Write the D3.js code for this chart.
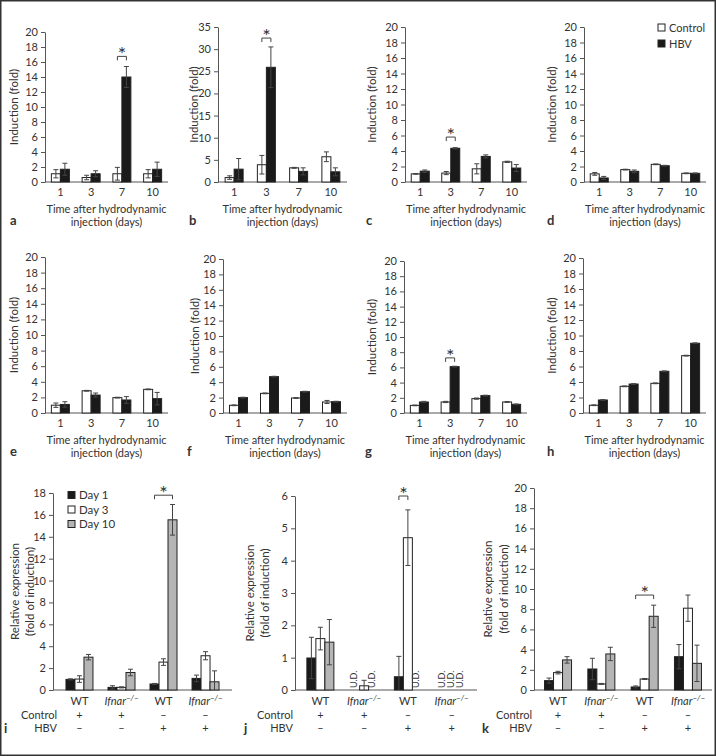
<!DOCTYPE html>
<html>
<head>
<meta charset="utf-8">
<script src="https://cdn.jsdelivr.net/npm/d3@7"></script>
<style>
  body { margin: 0; background: #fff; }
  text { font-family: Lato, "Open Sans", sans-serif; fill: #333; }
</style>
</head>
<body>
<svg id="chart" width="716" height="756"></svg>
<script>
// ---- data ----
const days = ["1", "3", "7", "10"]

const aControl = [1.1, 0.6, 1.1, 1.1], aControlErr = [0.55, 0.3, 0.85, 0.55]
const aHBV = [1.7, 1.1, 14.0, 1.7], aHBVErr = [0.8, 0.4, 1.4, 0.95]

const bControl = [1.0, 3.9, 3.2, 5.7], bControlErr = [0.4, 2.1, 0.1, 1.1]
const bHBV = [2.9, 25.9, 2.4, 2.3], bHBVErr = [2.4, 4.6, 0.8, 0.9]

const cControl = [1.05, 1.15, 1.7, 2.6], cControlErr = [0.05, 0.2, 0.65, 0.08]
const cHBV = [1.4, 4.35, 3.3, 1.8], cHBVErr = [0.15, 0.08, 0.2, 0.45]

const dControl = [1.05, 1.6, 2.28, 1.12], dControlErr = [0.18, 0.05, 0.05, 0.05]
const dHBV = [0.52, 1.38, 2.1, 1.12], dHBVErr = [0.2, 0.17, 0.05, 0.05]

const eControl = [1.0, 2.85, 1.97, 3.03], eControlErr = [0.28, 0.05, 0.05, 0.05]
const eHBV = [1.1, 2.3, 1.67, 1.84], eHBVErr = [0.35, 0.26, 0.43, 0.8]

const fControl = [1.0, 2.55, 1.95, 1.43], fControlErr = [0.05, 0.05, 0.05, 0.2]
const fHBV = [2.0, 4.72, 2.77, 1.47], fHBVErr = [0.05, 0.05, 0.05, 0.05]

const gControl = [1.0, 1.45, 1.89, 1.45], gControlErr = [0.05, 0.08, 0.08, 0.05]
const gHBV = [1.45, 6.1, 2.29, 1.14], gHBVErr = [0.08, 0.05, 0.05, 0.05]

const hControl = [1.0, 3.44, 3.83, 7.4], hControlErr = [0.05, 0.05, 0.05, 0.05]
const hHBV = [1.68, 3.74, 5.38, 9.0], hHBVErr = [0.05, 0.05, 0.05, 0.05]

const groups = ["WT ctrl", "KO ctrl", "WT HBV", "KO HBV"]
const groupIsKO = [false, true, false, true]
const controlMarks = ["+", "+", "\u2013", "\u2013"]
const hbvMarks = ["\u2013", "\u2013", "+", "+"]
const legendDays = ["Day 1", "Day 3", "Day 10"]

const iDay1 = [0.97, 0.24, 0.55, 1.06], iDay1Err = [0.05, 0.15, 0.05, 0.3]
const iDay3 = [1.0, 0.24, 2.55, 3.13], iDay3Err = [0.3, 0.05, 0.3, 0.37]
const iDay10 = [3.0, 1.6, 15.55, 0.75], iDay10Err = [0.25, 0.3, 1.4, 1.0]

const jDay1 = [0.99, null, 0.41, null], jDay1Err = [0.64, 0, 0.63, 0]
const jDay3 = [1.59, 0.13, 4.71, null], jDay3Err = [0.35, 0.17, 0.86, 0]
const jDay10 = [1.48, null, null, null], jDay10Err = [0.7, 0, 0, 0]

const kDay1 = [0.93, 2.08, 0.3, 3.3], kDay1Err = [0.25, 1.06, 0.1, 1.2]
const kDay3 = [1.72, 0.6, 1.09, 8.1], kDay3Err = [0.13, 0.05, 0.05, 1.3]
const kDay10 = [2.98, 3.57, 7.3, 2.64], kDay10Err = [0.32, 0.66, 1.1, 1.8]

// ---- drawing ----
const svg = d3.select("#chart")
const BW = 9
const INK = "#222"

svg.append("rect")
    .attr("x", 0.75).attr("y", 0.75)
    .attr("width", 714.5).attr("height", 754.5)
    .attr("fill", "none").attr("stroke", "#333").attr("stroke-width", 1.5)

function drawYAxis(g, y, ax, ticks) {
    g.append("g")
        .attr("transform", "translate(" + ax + ",0)")
        .attr("font-family", null)
        .call(d3.axisLeft(y).tickValues(ticks).tickFormat(d3.format("d"))
            .tickSize(4).tickSizeOuter(0).tickPadding(3))
        .call(function (s) {
            s.select(".domain").attr("stroke", "#555")
            s.selectAll(".tick line").attr("stroke", "#555")
            s.selectAll(".tick text").attr("font-size", 11).attr("fill", "#444")
        })
}

function drawErrors(g, rows, y) {
    rows.forEach(function (r) {
        const lo = Math.max(0, r.v - r.e), hi = r.v + r.e
        g.append("line").attr("x1", r.cx).attr("x2", r.cx)
            .attr("y1", y(lo)).attr("y2", y(hi))
            .attr("stroke", "#444").attr("stroke-width", 1)
        g.append("line").attr("x1", r.cx - 2.5).attr("x2", r.cx + 2.5)
            .attr("y1", y(hi)).attr("y2", y(hi))
            .attr("stroke", "#444").attr("stroke-width", 1)
        if (lo > 0) {
            g.append("line").attr("x1", r.cx - 2.5).attr("x2", r.cx + 2.5)
                .attr("y1", y(lo)).attr("y2", y(lo))
                .attr("stroke", "#444").attr("stroke-width", 1)
        }
    })
}

function drawSig(g, x1, x2, yy) {
    g.append("path")
        .attr("d", "M" + x1 + "," + (yy + 4) + "V" + yy + "H" + x2 + "V" + (yy + 4))
        .attr("fill", "none").attr("stroke", "#444").attr("stroke-width", 1)
    g.append("text").attr("x", (x1 + x2) / 2).attr("y", yy + 5)
        .attr("text-anchor", "middle").attr("font-size", 20)
        .attr("font-family", "'DejaVu Sans', sans-serif").attr("fill", "#222").text("*")
}

function inductionPanel(L, max, step, ctrl, ctrlErr, hbv, hbvErr, sig) {
    const g = svg.append("g")
    const y = d3.scaleLinear().domain([0, max]).range([L.bottom, L.top])
    const x = d3.scalePoint().domain(days).range([L.ax, L.right]).padding(0.5)

    drawYAxis(g, y, L.ax, d3.range(0, max + 0.001, step))
    g.append("line").attr("x1", L.ax).attr("x2", L.right)
        .attr("y1", L.bottom).attr("y2", L.bottom).attr("stroke", "#555")

    const series = [
        { v: ctrl, e: ctrlErr, fill: "#fff", off: -BW },
        { v: hbv, e: hbvErr, fill: "#1a1a1a", off: 0 }
    ]
    series.forEach(function (s) {
        const rows = days.map(function (d, i) {
            return { day: d, v: s.v[i], e: s.e[i], cx: x(d) + s.off + BW / 2 }
        })
        g.selectAll(null).data(rows).join("rect")
            .attr("x", function (d) { return x(d.day) + s.off })
            .attr("y", function (d) { return y(d.v) })
            .attr("width", BW)
            .attr("height", function (d) { return L.bottom - y(d.v) })
            .attr("fill", s.fill).attr("stroke", INK).attr("stroke-width", 1)
        drawErrors(g, rows, y)
    })

    g.selectAll(null).data(days).join("text")
        .attr("x", function (d) { return x(d) }).attr("y", L.bottom + 14)
        .attr("text-anchor", "middle").attr("font-size", 11).attr("fill", "#444")
        .text(function (d) { return d })

    const mid = (L.ax + L.right) / 2
    g.append("text").attr("x", mid).attr("y", L.bottom + 31)
        .attr("text-anchor", "middle").attr("font-size", 11).text("Time after hydrodynamic")
    g.append("text").attr("x", mid).attr("y", L.bottom + 44)
        .attr("text-anchor", "middle").attr("font-size", 11).text("injection (days)")

    g.append("text")
        .attr("transform", "translate(" + L.labelX + "," + (L.top + L.bottom) / 2 + ") rotate(-90)")
        .attr("text-anchor", "middle").attr("dominant-baseline", "middle")
        .attr("font-size", 11.5).text("Induction (fold)")

    g.append("text").attr("x", L.letterX).attr("y", L.bottom + 43)
        .attr("font-size", 13).attr("font-weight", "bold").attr("fill", "#222").text(L.letter)

    if (sig) {
        drawSig(g, x(sig.day) - BW / 2, x(sig.day) + BW / 2, y(sig.at))
    }
    return g
}

function expressionPanel(L, max, step, d1, d1e, d3v, d3e, d10, d10e, sig) {
    const g = svg.append("g")
    const y = d3.scaleLinear().domain([0, max]).range([L.bottom, L.top])
    const x = d3.scalePoint().domain(groups).range([L.ax, L.right]).padding(L.pad)

    drawYAxis(g, y, L.ax, d3.range(0, max + 0.001, step))
    g.append("line").attr("x1", L.ax).attr("x2", L.right)
        .attr("y1", L.bottom).attr("y2", L.bottom).attr("stroke", "#555")

    const series = [
        { v: d1, e: d1e, fill: "#1a1a1a", off: -1.5 * BW },
        { v: d3v, e: d3e, fill: "#fff", off: -0.5 * BW },
        { v: d10, e: d10e, fill: "#b5b5b5", off: 0.5 * BW }
    ]
    series.forEach(function (s) {
        const rows = groups.map(function (gr, i) {
            return { gr: gr, v: s.v[i], e: s.e[i], cx: x(gr) + s.off + BW / 2 }
        })
        const shown = rows.filter(function (r) { return r.v !== null })
        const missing = rows.filter(function (r) { return r.v === null })
        g.selectAll(null).data(shown).join("rect")
            .attr("x", function (d) { return x(d.gr) + s.off })
            .attr("y", function (d) { return y(d.v) })
            .attr("width", BW)
            .attr("height", function (d) { return L.bottom - y(d.v) })
            .attr("fill", s.fill).attr("stroke", INK).attr("stroke-width", 1)
        drawErrors(g, shown, y)
        g.selectAll(null).data(missing).join("text")
            .attr("transform", function (d) { return "translate(" + d.cx + "," + (L.bottom - 2) + ") rotate(-90)" })
            .attr("dominant-baseline", "middle").attr("font-size", 9).attr("fill", "#444")
            .text("U.D.")
    })

    const labels = g.selectAll(null).data(groups).join("text")
        .attr("x", function (d) { return x(d) }).attr("y", L.bottom + 15)
        .attr("text-anchor", "middle").attr("font-size", 11).attr("fill", "#444")
    labels.each(function (d, i) {
        const t = d3.select(this)
        if (groupIsKO[i]) {
            t.append("tspan").attr("font-style", "italic").text("Ifnar")
            t.append("tspan").attr("font-style", "italic").attr("font-size", 8).attr("dy", -4).text("\u2212/\u2212")
        } else {
            t.text("WT")
        }
    })

    g.selectAll(null).data(groups).join("text")
        .attr("x", function (d) { return x(d) }).attr("y", L.bottom + 29)
        .attr("text-anchor", "middle").attr("font-size", 11)
        .text(function (d, i) { return controlMarks[i] })
    g.selectAll(null).data(groups).join("text")
        .attr("x", function (d) { return x(d) }).attr("y", L.bottom + 42)
        .attr("text-anchor", "middle").attr("font-size", 11)
        .text(function (d, i) { return hbvMarks[i] })
    g.append("text").attr("x", L.rowX).attr("y", L.bottom + 29)
        .attr("text-anchor", "end").attr("font-size", 11).text("Control")
    g.append("text").attr("x", L.rowX).attr("y", L.bottom + 42)
        .attr("text-anchor", "end").attr("font-size", 11).text("HBV")

    const cy = (L.top + L.bottom) / 2
    g.append("text")
        .attr("transform", "translate(" + L.labelX[0] + "," + cy + ") rotate(-90)")
        .attr("text-anchor", "middle").attr("dominant-baseline", "middle")
        .attr("font-size", 11.5).text("Relative expression")
    g.append("text")
        .attr("transform", "translate(" + L.labelX[1] + "," + cy + ") rotate(-90)")
        .attr("text-anchor", "middle").attr("dominant-baseline", "middle")
        .attr("font-size", 11.5).text("(fold of induction)")

    g.append("text").attr("x", L.letterX).attr("y", L.bottom + 43)
        .attr("font-size", 13).attr("font-weight", "bold").attr("fill", "#222").text(L.letter)

    if (sig) {
        const a = x(sig.from) + series[sig.s1].off + BW / 2
        const b = x(sig.from) + series[sig.s2].off + BW / 2
        drawSig(g, a, b, y(sig.at))
    }
    return g
}

// top row
inductionPanel({ ax: 45, top: 32, bottom: 182, right: 168, labelX: 15, letterX: 10, letter: "a" },
    20, 2, aControl, aControlErr, aHBV, aHBVErr, { day: "7", at: 16.75 })
inductionPanel({ ax: 218, top: 27, bottom: 182, right: 347, labelX: 195, letterX: 189, letter: "b" },
    35, 5, bControl, bControlErr, bHBV, bHBVErr, { day: "3", at: 32.5 })
inductionPanel({ ax: 405, top: 27, bottom: 182, right: 527, labelX: 373, letterX: 366, letter: "c" },
    20, 2, cControl, cControlErr, cHBV, cHBVErr, { day: "3", at: 5.8 })
const dPanel = inductionPanel({ ax: 584, top: 27, bottom: 182, right: 706, labelX: 553, letterX: 547, letter: "d" },
    20, 2, dControl, dControlErr, dHBV, dHBVErr, null)

// legend of the top panels
const legendTop = ["Control", "HBV"]
const legendTopFill = ["#fff", "#1a1a1a"]
dPanel.selectAll(null).data(legendTop).join("rect")
    .attr("x", 658).attr("y", function (d, i) { return 24 + i * 16 })
    .attr("width", 7).attr("height", 7)
    .attr("fill", function (d, i) { return legendTopFill[i] }).attr("stroke", INK)
dPanel.selectAll(null).data(legendTop).join("text")
    .attr("x", 669).attr("y", function (d, i) { return 31.5 + i * 16 })
    .attr("font-size", 11).text(function (d) { return d })

// middle row
inductionPanel({ ax: 45, top: 257, bottom: 413, right: 168, labelX: 15, letterX: 10, letter: "e" },
    20, 2, eControl, eControlErr, eHBV, eHBVErr, null)
inductionPanel({ ax: 223, top: 259, bottom: 413, right: 347, labelX: 196, letterX: 187, letter: "f" },
    20, 2, fControl, fControlErr, fHBV, fHBVErr, null)
inductionPanel({ ax: 404, top: 261, bottom: 413, right: 527, labelX: 373, letterX: 365, letter: "g" },
    20, 2, gControl, gControlErr, gHBV, gHBVErr, { day: "3", at: 7.25 })
inductionPanel({ ax: 583, top: 258, bottom: 413, right: 706, labelX: 553, letterX: 547, letter: "h" },
    20, 2, hControl, hControlErr, hHBV, hHBVErr, null)

// bottom row
const iPanel = expressionPanel({ ax: 53, top: 493, bottom: 690, right: 232, pad: 0.63, labelX: [16, 31], rowX: 57, letterX: 4, letter: "i" },
    18, 2, iDay1, iDay1Err, iDay3, iDay3Err, iDay10, iDay10Err, { from: "WT HBV", s1: 0, s2: 2, at: 17.8 })
expressionPanel({ ax: 295, top: 496, bottom: 690, right: 477, pad: 0.58, labelX: [251, 266], rowX: 293, letterX: 244, letter: "j" },
    6, 1, jDay1, jDay1Err, jDay3, jDay3Err, jDay10, jDay10Err, { from: "WT HBV", s1: 0, s2: 1, at: 6.0 })
expressionPanel({ ax: 534, top: 488, bottom: 690, right: 712, pad: 0.555, labelX: [489, 505], rowX: 532, letterX: 482, letter: "k" },
    20, 2, kDay1, kDay1Err, kDay3, kDay3Err, kDay10, kDay10Err, { from: "WT HBV", s1: 0, s2: 2, at: 9.4 })

// legend of the bottom panels
const legendDayFill = ["#1a1a1a", "#fff", "#b5b5b5"]
iPanel.selectAll(null).data(legendDays).join("rect")
    .attr("x", 68).attr("y", function (d, i) { return 491.5 + i * 14.5 })
    .attr("width", 7).attr("height", 7)
    .attr("fill", function (d, i) { return legendDayFill[i] }).attr("stroke", INK)
iPanel.selectAll(null).data(legendDays).join("text")
    .attr("x", 79).attr("y", function (d, i) { return 499 + i * 14.5 })
    .attr("font-size", 11.5).text(function (d) { return d })
</script>
</body>
</html>
